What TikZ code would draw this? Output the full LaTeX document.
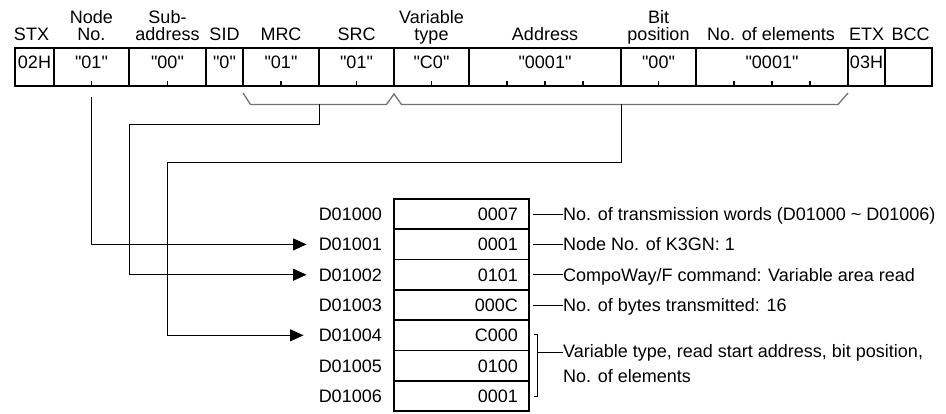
\documentclass[tikz,border=0pt]{standalone}
\usepackage{fontspec}
\setmainfont{Liberation Sans}
\usetikzlibrary{arrows.meta,calc}
\newcommand\myfs{\fontsize{18pt}{17.5pt}\selectfont}
\newcommand\qq{\textquotedbl}
\begin{document}
\begin{tikzpicture}[x=1pt,y=-1pt,
  fr/.style={draw, line width=1.8pt, inner sep=0pt, outer sep=0pt, minimum height=38pt,
    anchor=north west, font=\myfs, text height=13pt, text depth=9pt},
  hd/.style={inner sep=0pt, align=center, anchor=base, font=\myfs},
  tick/.style={line width=1.4pt},
  mem/.style={draw, line width=1.8pt, inner sep=0pt, inner xsep=11pt, outer sep=0pt,
    minimum height=30.29pt, text width=113pt, align=right, anchor=north west,
    font=\myfs, text height=13pt, text depth=0pt},
  lbl/.style={inner sep=0pt, anchor=east, font=\myfs, text height=13pt, text depth=0pt},
  ann/.style={inner sep=0pt, anchor=west, font=\myfs, text height=13pt, text depth=0pt},
  ann2/.style={inner sep=0pt, anchor=base west, align=left, font=\fontsize{18pt}{25pt}\selectfont},
  conn/.style={line width=0.9pt, black},
  arr/.style={-{Triangle[length=13.5pt,width=12pt]}},
  brace/.style={line width=1.3pt, black!55, line join=miter},
  thinl/.style={line width=0.9pt, black}]
\useasboundingbox (0,0) rectangle (946,414);

% frame cells
\node[fr, minimum width=39pt]  (stx)  at (15,48)  {02H};
\node[fr, minimum width=75pt]  (nno)  at (54,48)  {\qq01\qq};
\node[fr, minimum width=77pt]  (sub)  at (129,48) {\qq00\qq};
\node[fr, minimum width=37pt]  (sid)  at (206,48) {\qq0\qq};
\node[fr, minimum width=76pt]  (mrc)  at (243,48) {\qq01\qq};
\node[fr, minimum width=75pt]  (src)  at (319,48) {\qq01\qq};
\node[fr, minimum width=75pt]  (var)  at (394,48) {\qq C0\qq};
\node[fr, minimum width=152pt] (addr) at (469,48) {\qq0001\qq};
\node[fr, minimum width=75pt]  (bit)  at (621,48) {\qq00\qq};
\node[fr, minimum width=152pt] (nel)  at (696,48) {\qq0001\qq};
\node[fr, minimum width=37pt]  (etx)  at (848,48) {03H};
\node[fr, minimum width=47pt]  (bcc)  at (885,48) {};

% ticks
\foreach \c/\f in {nno/.5, sub/.5, mrc/.5, src/.5, var/.5, addr/.25, addr/.5, addr/.75, bit/.5, nel/.25, nel/.5, nel/.75}
  \draw[tick] ($(\c.south west)!\f!(\c.south east)$) -- ++(0,-5);

% headers (base = baseline of last line)
\node[hd] (hstx) at ($(stx.north)+(-3,-7)$) {STX};
\node[hd] (hnno) at ($(nno.north)+(0,-7)$) {Node\\No.};
\node[hd] (hsub) at ($(sub.north)+(0,-7)$) {Sub-\\address};
\node[hd] (hsid) at ($(sid.north)+(0,-7)$) {SID};
\node[hd] (hmrc) at ($(mrc.north)+(0,-7)$) {MRC};
\node[hd] (hsrc) at ($(src.north)+(0,-7)$) {SRC};
\node[hd] (hvar) at ($(var.north)+(0,-7)$) {Variable\\type};
\node[hd] (haddr) at ($(addr.north)+(0,-7)$) {Address};
\node[hd] (hbit) at ($(bit.north)+(0,-7)$) {Bit\\position};
\node[hd] (hnel) at ($(nel.north)+(-1,-7)$) {No. of elements};
\node[hd] (hetx) at ($(etx.north)+(0,-7)$) {ETX};
\node[hd] (hbcc) at ($(bcc.north)+(2,-7)$) {BCC};

% braces
\coordinate (bl)  at ($(sid.south east)+(0,7)$);
\coordinate (pk)  at ($(var.south west)+(0,8)$);
\coordinate (br)  at ($(nel.south east)+(0,7)$);
\draw[brace] (bl) -- ++(7.5,11.5) -- ($(pk)+(-7.5,10.5)$) -- (pk) -- ++(7.5,10.5)
  -- ($(br)+(-10,11.5)$) -- (br);

% memory
\foreach \i/\v/\d in {0/0007/D01000, 1/0001/D01001, 2/0101/D01002, 3/000C/D01003,
                      4/C000/D01004, 5/0100/D01005, 6/0001/D01006} {
  \node[mem] (m\i) at (394,{199+30.29*\i}) {\v};
  \node[lbl] (l\i) at ($(m\i.west)+(-12,0)$) {\d};
}

% annotations
\node[ann] (a0) at ($(m0.east)+(34,0)$) {No. of transmission words (D01000 \textasciitilde{} D01006)};
\node[ann] (a1) at ($(m1.east)+(34,0)$) {Node No. of K3GN: 1};
\node[ann] (a2) at ($(m2.east)+(34,0)$) {CompoWay/F command: Variable area read};
\node[ann] (a3) at ($(m3.east)+(34,0)$) {No. of bytes transmitted: 16};
\foreach \i in {0,1,2,3}
  \draw[thinl] ($(m\i.east)+(4,0)$) -- (a\i.west);
\node[ann2] (a4) at ($(m4.south east)+(34,32)$) {Variable type, read start address, bit position,\\No. of elements};
\coordinate (bk) at ($(m4.south east)+(8,2)$);
\draw[thinl] ($(m4.north east)+(5,14)$) -- ++(3,0) -- ($(m6.south east)+(8,-15)$) -- ++(-3,0);
\draw[thinl] (bk) -- (bk -| a4.west);

% connectors
\coordinate (o1) at ($(nno.south)+(0,11)$);
\coordinate (b1) at ($(mrc.south east)+(0,18.5)$);
\coordinate (j1) at ($(nno.south east)+(0,38)$);
\coordinate (b2) at ($(addr.south east)+(0,18.5)$);
\coordinate (j2) at ($(sub.south)+(0,76)$);
\draw[conn, arr] (o1) |- ($(l1.west)+(-12,0)$);
\draw[conn, arr] (b1) |- (j1) |- ($(l2.west)+(-12,0)$);
\draw[conn, arr] (b2) |- (j2) |- ($(l4.west)+(-15,0)$);
\end{tikzpicture}
\end{document}
